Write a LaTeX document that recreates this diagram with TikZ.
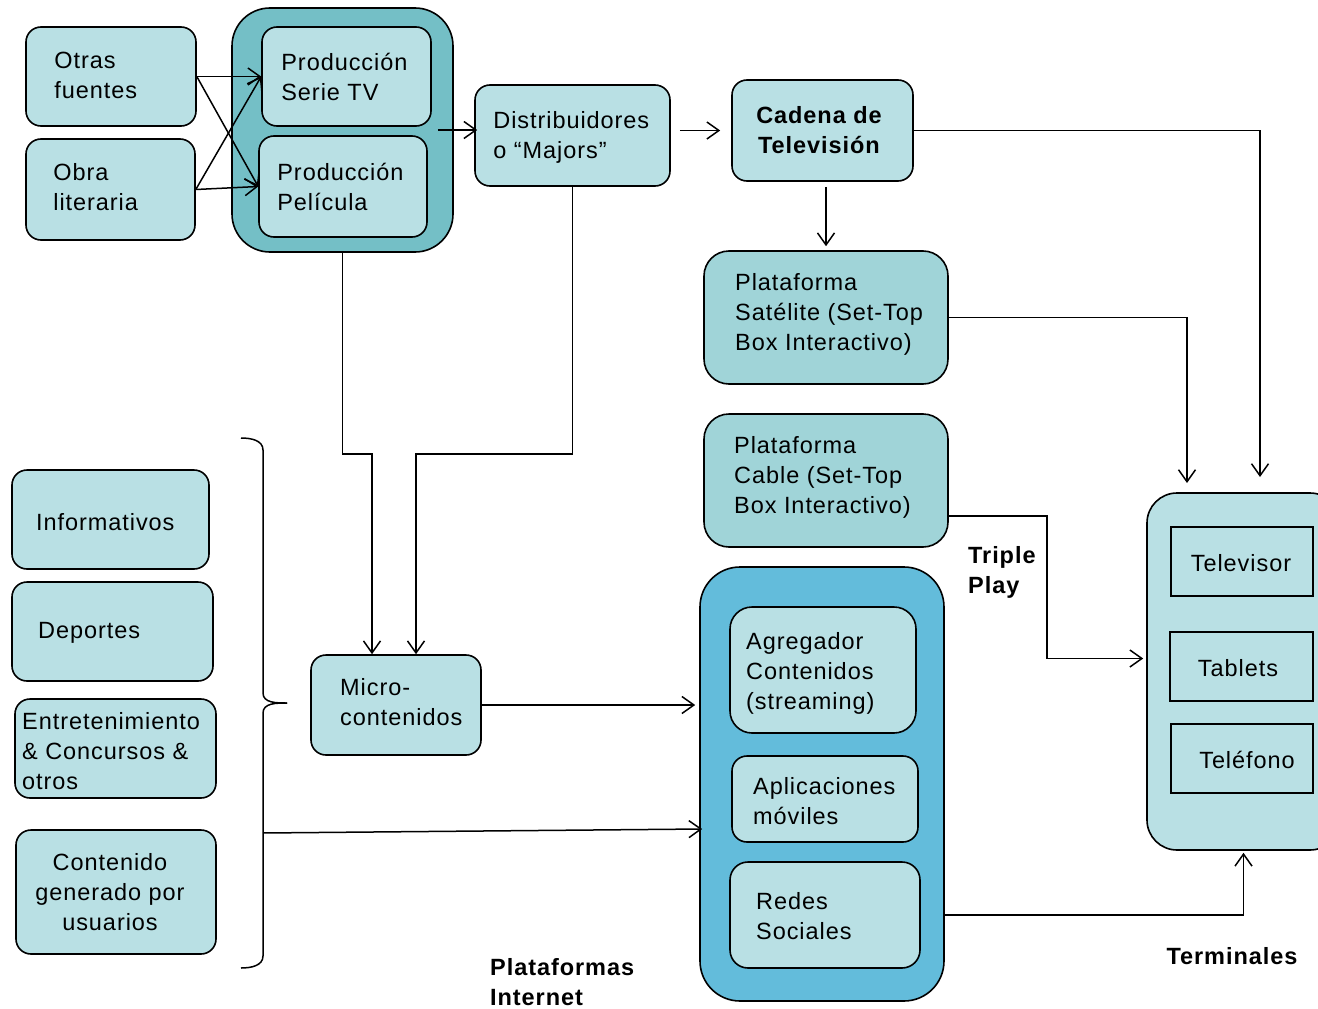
\documentclass[tikz,border=0pt]{standalone}
\usepackage{fontspec}
\setmainfont[LetterSpace=4]{Liberation Sans}
\usetikzlibrary{arrows.meta,calc}
\definecolor{boxlight}{RGB}{185,224,228}
\definecolor{boxmid}{RGB}{160,212,216}
\definecolor{prodteal}{RGB}{116,191,198}
\definecolor{netblue}{RGB}{99,188,219}
\begin{document}
\begin{tikzpicture}[x=1pt,y=-1pt,
  every node/.style={font=\fontsize{23.5}{30}\selectfont},
  box/.style={draw=black, line width=1.6pt, fill=boxlight, rounded corners=15pt, inner sep=0pt},
  bigbox/.style={box, rounded corners=25pt, fill=boxmid},
  group/.style={draw=black, line width=1.6pt, rounded corners=40pt, inner sep=0pt},
  device/.style={draw=black, line width=1.4pt, fill=boxlight, inner sep=0pt},
  txt/.style={inner sep=0pt, align=left, anchor=west},
  ctxt/.style={inner sep=0pt, align=center},
  head/.style={inner sep=0pt, align=left, anchor=west, font=\fontsize{23.5}{30}\selectfont\bfseries},
  arr/.style={draw=black, line width=1.5pt, -{Straight Barb[length=12pt,width=17pt]}},
  link/.style={draw=black, line width=1.5pt}]

\useasboundingbox (0,0) rectangle (1318,1009);
\clip (0,0) rectangle (1318,1009);
\fill[white] (0,0) rectangle (1318,1009);

% --- sources and production ---
\node[box, minimum width=170pt, minimum height=99pt] (otras) at (111,76.5) {};
\node[txt] (otras-t) at ([xshift=29pt,yshift=1pt]otras.west) {Otras\\fuentes};
\node[box, minimum width=169pt, minimum height=101pt] (obra) at (110.5,189.5) {};
\node[txt] (obra-t) at ([xshift=28pt,yshift=2pt]obra.west) {Obra\\literaria};

\node[group, fill=prodteal, rounded corners=38pt, minimum width=221pt, minimum height=244pt] (prodcont) at (342.5,130) {};
\node[box, minimum width=169pt, minimum height=99pt] (serie) at (346.5,76.5) {};
\node[txt] (serie-t) at ([xshift=20pt]serie.west) {Producción\\Serie TV};
\node[box, minimum width=168pt, minimum height=101pt] (pelicula) at (343,186.5) {};
\node[txt] (pelicula-t) at ([xshift=19pt]pelicula.west) {Producción\\Película};

% --- distribution and broadcasting ---
\node[box, minimum width=195pt, minimum height=101pt] (distrib) at (572.5,135.5) {};
\node[txt] (distrib-t) at ([xshift=19pt,yshift=-2pt]distrib.west) {Distribuidores\\o “Majors”};
\node[box, minimum width=181pt, minimum height=101pt] (cadena) at (822.5,130.5) {};
\node[ctxt, font=\fontsize{23.5}{30}\selectfont\bfseries] (cadena-t) at (819,130) {Cadena de\\Televisión};

\node[bigbox, minimum width=244pt, minimum height=133pt] (satelite) at (826,317.5) {};
\node[txt] (satelite-t) at (735,314) {Plataforma\\Satélite (Set-Top\\Box Interactivo)};
\node[bigbox, minimum width=244pt, minimum height=133pt] (cable) at (826,480.5) {};
\node[txt] (cable-t) at (734,477) {Plataforma\\Cable (Set-Top\\Box Interactivo)};
\node[head] (triple) at (968,572) {Triple\\Play};

% --- terminals ---
\node[group, fill=boxlight, rounded corners=30pt, minimum width=193pt, minimum height=357pt] (termcont) at (1243.5,671.5) {};
\node[device, minimum width=142pt, minimum height=69pt] (televisor) at (1242,561.5) {};
\node[ctxt] (televisor-t) at (1241,563) {Televisor};
\node[device, minimum width=143pt, minimum height=69pt] (tablets) at (1241.5,666.5) {};
\node[ctxt] (tablets-t) at (1238,668) {Tablets};
\node[device, minimum width=142pt, minimum height=69pt] (telefono) at (1242,758.5) {};
\node[ctxt] (telefono-t) at (1247,760) {Teléfono};
\node[ctxt, font=\fontsize{23.5}{30}\selectfont\bfseries] (terminales) at (1232,956) {Terminales};

% --- internet platforms ---
\node[group, fill=netblue, minimum width=244pt, minimum height=434pt] (netcont) at (822,784) {};
\node[box, minimum width=186pt, minimum height=126pt, rounded corners=22pt] (agregador) at (823,670) {};
\node[txt] (agregador-t) at (746,673) {Agregador\\Contenidos\\(streaming)};
\node[box, minimum width=186pt, minimum height=86pt] (apps) at (825,799) {};
\node[txt] (apps-t) at (753,801) {Aplicaciones\\móviles};
\node[box, minimum width=190pt, minimum height=106pt, rounded corners=18pt] (redes) at (825,915) {};
\node[txt] (redes-t) at (756,916) {Redes\\Sociales};
\node[head] (internet) at (490,982) {Plataformas\\Internet};

% --- micro-contents and genres ---
\node[box, minimum width=170pt, minimum height=100pt] (micro) at (396,705) {};
\node[txt] (micro-t) at (340,702) {Micro-\\contenidos};

\node[box, minimum width=197pt, minimum height=99pt] (informativos) at (110.5,519.5) {};
\node[txt] (informativos-t) at (36,522) {Informativos};
\node[box, minimum width=201pt, minimum height=99pt] (deportes) at (112.5,631.5) {};
\node[txt] (deportes-t) at (38,633) {Deportes};
\node[box, minimum width=201pt, minimum height=99pt] (entret) at (115.5,748.5) {};
\node[txt] (entret-t) at (22,751) {Entretenimiento\\\& Concursos \&\\otros};
\node[box, minimum width=200pt, minimum height=124pt] (contenido) at (116,892) {};
\node[ctxt] (contenido-t) at (110,892) {Contenido\\generado por\\usuarios};

% right brace grouping the genres
\coordinate (bracetip) at (287,703);
\coordinate (bracefeed) at (263,833);
\draw[link] (241,438) to[out=0,in=90] (263,450) -- (263,693) to[out=-90,in=180] (bracetip);
\draw[link] (bracetip) to[out=180,in=90] (263,713) -- (263,956) to[out=-90,in=0] (241,968);

% --- connectors ---
\draw[arr] (otras.east) -- (serie.west);
\draw[arr] (otras.east) -- (pelicula.west);
\draw[arr] (obra.east) -- (serie.west);
\draw[arr] (obra.east) -- (pelicula.west);

\draw[arr] ([xshift=-16pt]prodcont.east) -- ([xshift=3pt]distrib.west |- prodcont.east);
\draw[arr] ([xshift=9pt]distrib.east |- cadena.east) -- ([xshift=-11pt]cadena.west);

\coordinate (tv-in) at (1260,477);
\coordinate (sat-in) at (1187,483);
\draw[arr] (cadena.east) -| (tv-in);
\draw[arr] ([yshift=-5pt]cadena.south -| satelite.north) -- ([yshift=4pt]satelite.north);
\draw[arr] (satelite.east) -| (sat-in);
\draw[arr] ($(cable.east)+(0,35.5)$) -- ++(98,0) |- ([xshift=-3pt,yshift=8pt]termcont.west |- tablets);

\draw[arr] (prodcont.south) -- ++(0,201) -| ([xshift=-24pt]micro.north);
\draw[arr] (distrib.south) -- ++(0,267) -| ([xshift=20pt]micro.north);

\draw[arr] (micro.east) -- ([xshift=-4pt]netcont.west |- micro.east);
\draw[arr] (bracefeed) -- ($(netcont.west)+(3,45)$);
\draw[arr] (netcont.east |- redes.east) -| ([yshift=-2pt]termcont.south);

\end{tikzpicture}
\end{document}
